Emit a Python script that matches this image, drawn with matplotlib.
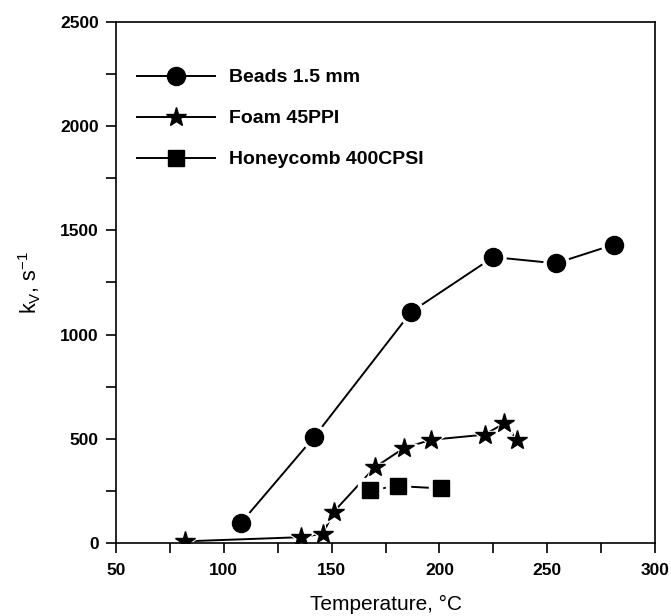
import matplotlib
matplotlib.use('Agg')
import matplotlib.pyplot as plt
from matplotlib.ticker import MultipleLocator

plt.rcParams['font.family'] = ['Liberation Sans', 'DejaVu Sans']

# data
beads_T = [108, 142, 187, 225, 254, 281]
beads_k = [97, 510, 1110, 1372, 1342, 1432]

foam_T = [82, 136, 146, 151, 170, 183.5, 196, 221, 230, 236]
foam_k = [8, 28, 45, 150, 363, 455, 495, 520, 574, 495]

honey_T = [168, 181, 200.5]
honey_k = [255, 273, 262]

labels = ['Beads 1.5 mm', 'Foam 45PPI', 'Honeycomb 400CPSI']

fig = plt.figure(figsize=(6.71, 6.16), dpi=100)
ax = fig.add_axes([0.1729, 0.1185, 0.8033, 0.8458])

LW = 1.4


def draw(x, y, marker, ms, label):
    # line first, then a white halo so the line stops short of each marker
    ax.plot(x, y, '-', color='black', lw=LW, zorder=1)
    ax.plot(x, y, linestyle='none', marker=marker, ms=ms + 5, color='white',
            markeredgecolor='white', zorder=2)
    ax.plot(x, y, linestyle='none', marker=marker, ms=ms, color='black', zorder=3)
    # proxy for the legend
    h, = ax.plot([], [], '-', color='black', lw=LW, marker=marker, ms=ms,
                 markerfacecolor='black', markeredgecolor='black', label=label)
    return h


h1 = draw(beads_T, beads_k, 'o', 13, labels[0])
h2 = draw(foam_T, foam_k, '*', 15, labels[1])
h3 = draw(honey_T, honey_k, 's', 12, labels[2])

ax.set_xlim(50, 300)
ax.set_ylim(0, 2500)
ax.xaxis.set_major_locator(MultipleLocator(50))
ax.xaxis.set_minor_locator(MultipleLocator(25))
ax.yaxis.set_major_locator(MultipleLocator(500))
ax.yaxis.set_minor_locator(MultipleLocator(250))
ax.tick_params(which='both', direction='out', length=7.5, width=1.2,
               top=False, right=False)
ax.tick_params(axis='both', labelsize=12.5, pad=5)
ax.tick_params(axis='x', pad=7)
for lab in ax.get_xticklabels() + ax.get_yticklabels():
    lab.set_fontweight('bold')
for s in ax.spines.values():
    s.set_linewidth(1.2)

ax.set_xlabel('Temperature, \u00b0C', fontsize=15, labelpad=12)
ax.set_ylabel('k$_\\mathregular{V}$, s$^\\mathregular{-1}$', fontsize=15.5, labelpad=12)

leg = ax.legend(handles=[h1, h2, h3], loc='upper left',
                bbox_to_anchor=(0.024, 0.925), borderaxespad=0,
                frameon=False, handlelength=4.0, handletextpad=0.75,
                labelspacing=1.2, prop={'size': 14, 'weight': 'bold'})

plt.savefig('out.png', dpi=100)
plt.close()
